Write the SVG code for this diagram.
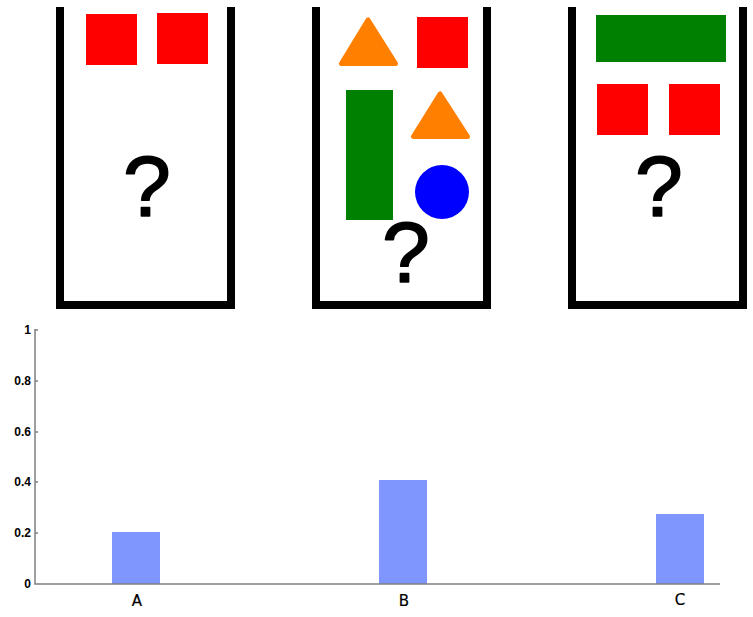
<svg xmlns="http://www.w3.org/2000/svg" width="753" height="617" viewBox="0 0 753 617">
<style>
.wall{fill:none;stroke:#000;stroke-width:8;stroke-linejoin:miter}
.red{fill:#FF0000}
.green{fill:#008000}
.orange{fill:#FF8000;stroke:#FF8000;stroke-width:5;stroke-linejoin:round}
.blue{fill:#0000FF}
.q{font-family:"Liberation Sans",Arial,sans-serif;font-size:86px;text-anchor:middle;fill:#000;stroke:#000;stroke-width:1.6;stroke-linejoin:round}
.ylab{font-family:"Liberation Sans",Arial,sans-serif;font-size:12px;font-weight:bold;text-anchor:end;fill:#000}
.xlab{font-family:"DejaVu Sans",Verdana,sans-serif;font-size:15px;text-anchor:middle;fill:#000;stroke:#000;stroke-width:0.2}
.bar{fill:#7F96FF}
.axis{stroke:#808080;stroke-width:1.5;fill:none}
</style>
<rect width="753" height="617" fill="#fff"/>
<g id="container1">
<path class="wall" d="M60,7 V305 H231 V7"/>
<rect class="red" x="86" y="14" width="51" height="51"/>
<rect class="red" x="157" y="13" width="51" height="51"/>
<text class="q" x="147" y="216">?</text>
</g>
<g id="container2">
<path class="wall" d="M316,7 V305 H487 V7"/>
<polygon class="orange" points="368,20 341.5,63.5 395.5,63.5"/>
<rect class="red" x="417" y="17" width="51" height="51"/>
<rect class="green" x="346" y="90" width="47" height="130"/>
<polygon class="orange" points="440,94 413.5,136.5 467.5,136.5"/>
<circle class="blue" cx="442" cy="192" r="27"/>
<text class="q" x="406" y="282">?</text>
</g>
<g id="container3">
<path class="wall" d="M572,7 V305 H743 V7"/>
<rect class="green" x="596" y="15" width="130" height="47"/>
<rect class="red" x="597" y="84" width="51" height="51"/>
<rect class="red" x="669" y="84" width="51" height="51"/>
<text class="q" x="659" y="216">?</text>
</g>
<g id="chart">
<rect class="bar" x="112" y="532" width="48" height="52"/>
<rect class="bar" x="379" y="480" width="48" height="104"/>
<rect class="bar" x="656" y="514" width="48" height="70"/>
<path class="axis" d="M35,329 V584 H720"/>
<path class="axis" d="M35,330 H38 M35,381 H38 M35,432 H38 M35,482 H38 M35,533 H38"/>
<text class="ylab" x="31" y="334">1</text>
<text class="ylab" x="31" y="385">0.8</text>
<text class="ylab" x="31" y="436">0.6</text>
<text class="ylab" x="31" y="486">0.4</text>
<text class="ylab" x="31" y="537">0.2</text>
<text class="ylab" x="31" y="588">0</text>
<text class="xlab" x="137" y="606">A</text>
<text class="xlab" x="404" y="606">B</text>
<text class="xlab" x="680" y="605">C</text>
</g>
</svg>
